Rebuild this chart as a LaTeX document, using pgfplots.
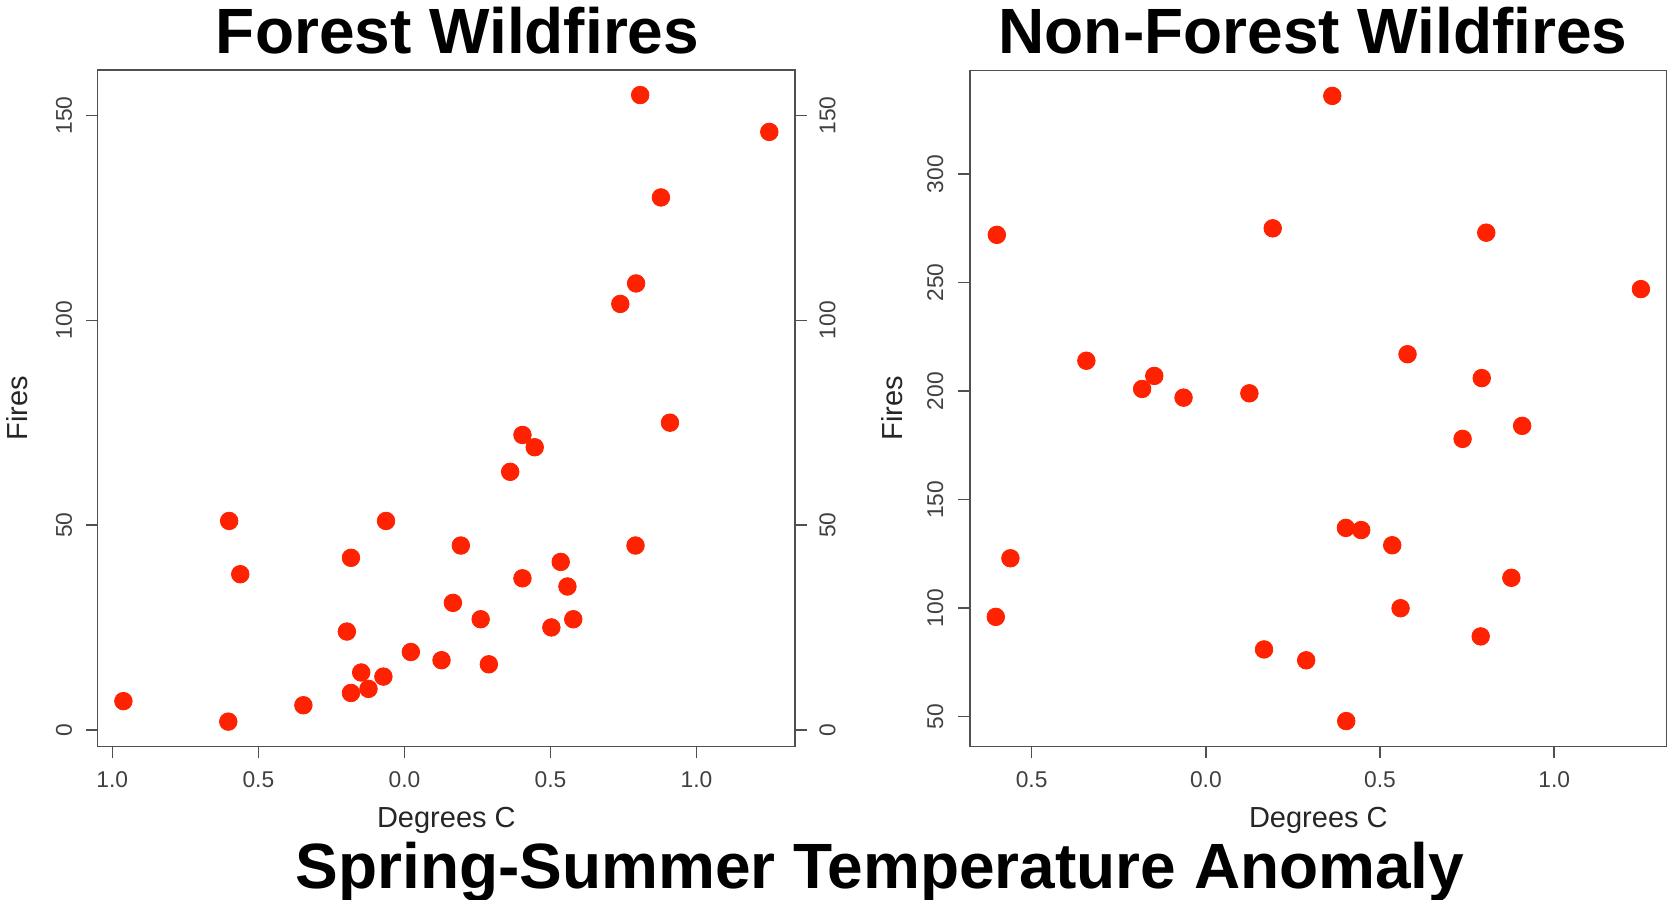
\documentclass[border=0pt]{standalone}
\usepackage{fontspec}
\setmainfont{Liberation Sans}
\usepackage{pgfplots}
\pgfplotsset{compat=1.18}

\definecolor{firered}{RGB}{255,34,0}
\definecolor{axisgray}{RGB}{80,80,80}

\pgfplotsset{
    rplot/.style={
        scale only axis,
        anchor=south west,
        axis line style={draw=axisgray, line width=0.75bp},
        tick style={draw=axisgray, line width=0.75bp},
        tick align=outside,
        major tick length=5.8bp,
        xtick pos=bottom,
        ytick pos=left,
        tick label style={font=\fontsize{11.4bp}{13bp}\selectfont, text=black!75},
        /pgf/number format/assume math mode=true,
        xticklabel style={anchor=north, inner sep=0pt},
        xticklabel shift=6.2bp,
        yticklabel style={rotate=90, anchor=south, inner sep=0pt},
        yticklabel shift=6.8bp,
        label style={font=\fontsize{14.5bp}{17bp}\selectfont, text=black!85},
        xlabel style={at={(axis description cs:0.5,-0.1201)}, anchor=base},
        ylabel style={rotate=0, anchor=base},
    },
    dots/.style={only marks, mark=*, mark size=4.4bp,
        mark options={draw=firered, fill=firered}},
}

\begin{document}
\begin{tikzpicture}
\path[use as bounding box] (0,0) rectangle (835.5bp,450bp);

% Forest wildfires
\begin{axis}[
    rplot,
    at={(48.85bp,76.65bp)},
    width=348.65bp,
    height=338.35bp,
    xmin=-1.050, xmax=1.337,
    ymin=-4.12, ymax=161.12,
    xtick={-1,-0.5,0,0.5,1},
    xticklabels={1.0,0.5,0.0,0.5,1.0},
    ytick={0,50,100,150},
    xlabel={Degrees C},
    ylabel={Fires},
    ylabel style={at={(axis description cs:-0.1,0.5)}},
]
\addplot[dots] coordinates {
    (-0.962,7) (-0.600,51) (-0.562,38) (-0.603,2) (-0.346,6)
    (-0.183,42) (-0.063,51) (-0.197,24) (0.022,19) (-0.148,14)
    (-0.072,13) (-0.123,10) (-0.183,9) (0.362,63) (0.404,72)
    (0.446,69) (0.193,45) (0.791,45) (0.535,41) (0.404,37)
    (0.558,35) (0.166,31) (0.261,27) (0.578,27) (0.503,25)
    (0.127,17) (0.289,16) (0.807,155) (1.249,146) (0.878,130)
    (0.793,109) (0.739,104) (0.909,75)
};
\end{axis}

% right-hand ticks of the forest panel
\begin{axis}[
    rplot,
    at={(48.85bp,76.65bp)},
    width=348.65bp,
    height=338.35bp,
    xmin=-1.050, xmax=1.337,
    ymin=-4.12, ymax=161.12,
    hide x axis,
    axis y line*=right,
    ytick pos=right,
    ytick={0,50,100,150},
    yticklabel style={anchor=north},
    yticklabel shift=6.2bp,
]
\end{axis}

% Non-forest wildfires
\begin{axis}[
    rplot,
    at={(485bp,76.65bp)},
    width=348.35bp,
    height=338.2bp,
    xmin=-0.677, xmax=1.323,
    ymin=36.2, ymax=347.8,
    xtick={-0.5,0,0.5,1},
    xticklabels={0.5,0.0,0.5,1.0},
    ytick={50,100,150,200,250,300},
    yticklabel shift=7.3bp,
    xlabel={Degrees C},
    ylabel={Fires},
    ylabel style={at={(axis description cs:-0.0976,0.5)}},
]
\addplot[dots] coordinates {
    (-0.600,272) (-0.343,214) (-0.183,201) (-0.148,207) (-0.064,197)
    (0.125,199) (0.192,275) (-0.561,123) (-0.603,96) (0.167,81)
    (0.363,336) (0.805,273) (1.249,247) (0.579,217) (0.792,206)
    (0.908,184) (0.737,178) (0.402,137) (0.446,136) (0.535,129)
    (0.877,114) (0.559,100) (0.789,87) (0.288,76) (0.403,48)
};
\end{axis}

% titles
\node[anchor=base, font=\fontsize{32bp}{36bp}\selectfont\bfseries]
    at (228.75bp,423bp) {Forest Wildfires};
\node[anchor=base, font=\fontsize{32bp}{36bp}\selectfont\bfseries]
    at (656.5bp,423bp) {Non-Forest Wildfires};
\node[anchor=base, font=\fontsize{32bp}{36bp}\selectfont\bfseries]
    at (440bp,6bp) {Spring-Summer Temperature Anomaly};
\end{tikzpicture}
\end{document}
